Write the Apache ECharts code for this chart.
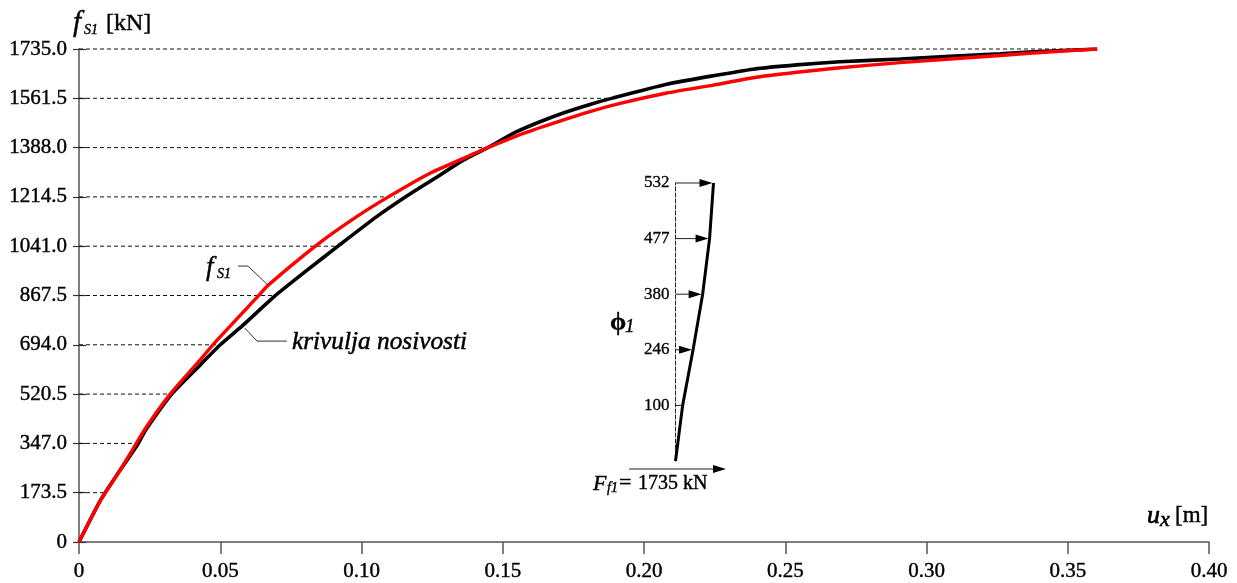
<!DOCTYPE html>
<html><head><meta charset="utf-8">
<style>html,body{margin:0;padding:0;background:#fff}#c{width:1237px;height:583px}</style>
<script src="https://cdn.jsdelivr.net/npm/echarts@6/dist/echarts.min.js"></script>
</head><body><div id="c"></div>
<script>
const xTicks = [0,0.05,0.10,0.15,0.20,0.25,0.30,0.35,0.40];
const yTicks = [0,173.5,347,520.5,694,867.5,1041,1214.5,1388,1561.5,1735];
const gridEnds = [0,0.0092,0.0205,0.033,0.05,0.0694,0.0917,0.1119,0.1448,0.188,0.358];
const capacityU = [0,0.00768,0.01416,0.02064,0.02361,0.03303,0.0431,0.05,0.05816,0.06938,0.0794,0.09179,0.10538,0.11657,0.12662,0.13604,0.14432,0.15494,0.16319,0.17144,0.18088,0.18913,0.20804,0.22453,0.2387,0.25405,0.26938,0.2906,0.326,0.3377,0.3604];
const capacityF = [0,148,247,341,394,523,625,694,764,866,946,1042,1145,1221,1284,1344,1386,1444,1479,1510,1540,1563,1611,1641,1664,1679,1690,1700,1718,1725,1735];
const fs1U = [0,0.00768,0.01416,0.0191,0.02361,0.03246,0.04131,0.04896,0.06347,0.06701,0.08414,0.0983,0.11009,0.12425,0.13604,0.14432,0.15727,0.1691,0.18088,0.19268,0.20804,0.22453,0.2387,0.25405,0.26938,0.2906,0.326,0.3377,0.3604];
const fs1F = [0,148,247,327,401,523,623,711,866,904,1045,1145,1218,1298,1350,1386,1438,1478,1515,1546,1580,1608,1634,1653,1669,1687,1712,1721,1735];
const phiLevels = ['','100','246','380','477','532'];
const phiLoads = [0,100,246,380,477,532];
const leaderFs1U = [0.0563,0.0598,0.0669];
const leaderFs1F = [971,971,904];
const leaderCapU = [0.0587,0.0630,0.0736];
const leaderCapF = [753,707,707];

const serif = '"Liberation Serif","Times New Roman",serif';
function txt(x,y,s,size,o){o=o||{};return {type:'text',x:x,y:y,silent:true,style:{text:s,fill:'#000',font:(o.italic?'italic ':'')+(o.bold?'bold ':'')+size+'px '+serif,textAlign:o.align||'left',textVerticalAlign:'middle',stroke:'#000',lineWidth:o.w===undefined?0.4:o.w}};}
function arrowShape(x0,x1,y){return [
 {type:'line',shape:{x1:x0,y1:y,x2:x1-8,y2:y},style:{stroke:'#222',lineWidth:1}},
 {type:'polygon',shape:{points:[[x1,y],[x1-13,y-4],[x1-13,y+4]]},style:{fill:'#000'}}];}

const chart = echarts.init(document.getElementById('c'),null,{renderer:'canvas'});
chart.setOption({
 animation:false,backgroundColor:'#fff',
 grid:[{left:79,top:49,width:1130,height:493},{left:675.5,top:183,width:38,height:278}],
 xAxis:[
  {gridIndex:0,type:'value',min:0,max:0.4,interval:0.05,
   axisLine:{lineStyle:{color:'#555',width:1.5}},axisTick:{length:12,lineStyle:{color:'#555',width:1.5}},splitLine:{show:false},
   axisLabel:{margin:19,color:'#000',fontFamily:serif,fontSize:21,textBorderColor:'#000',textBorderWidth:0.4,formatter:v=>{const i=xTicks.findIndex(t=>Math.abs(t-v)<1e-9);return i===0?'0':xTicks[i].toFixed(2);}}},
  {gridIndex:1,type:'value',min:0,max:532,show:false}
 ],
 yAxis:[
  {gridIndex:0,type:'value',min:0,max:1735,interval:173.5,
   axisLine:{show:true,lineStyle:{color:'#555',width:1.5}},axisTick:{show:true,length:6,lineStyle:{color:'#333',width:1.2}},splitLine:{show:false},
   axisLabel:{margin:12,color:'#000',fontFamily:serif,fontSize:21,padding:[7,0,0,0],textBorderColor:'#000',textBorderWidth:0.4,formatter:v=>v===0?'0':v.toFixed(1)}},
  {gridIndex:0,type:'value',min:0,max:1735,interval:173.5,position:'left',
   axisLine:{show:false},axisTick:{show:true,inside:true,length:7,lineStyle:{color:'#333',width:1.2}},axisLabel:{show:false},splitLine:{show:false}},
  {gridIndex:1,type:'category',data:phiLevels,boundaryGap:false,
   axisLine:{show:true,lineStyle:{color:'#222',width:1,type:[4,2]}},axisTick:{show:false},splitLine:{show:false},
   axisLabel:{margin:6,color:'#000',fontFamily:serif,fontSize:17,interval:0,padding:[5,0,0,0],textBorderColor:'#000',textBorderWidth:0.3}}
 ],
 series:[
  {type:'custom',xAxisIndex:0,yAxisIndex:0,silent:true,clip:false,z:1,
   data:yTicks.map((v,i)=>[gridEnds[i],v]),
   renderItem:(p,api)=>{const a=api.coord([0,api.value(1)]),b=api.coord([api.value(0),api.value(1)]);
     return {type:'line',shape:{x1:a[0],y1:a[1],x2:b[0],y2:b[1]},style:{stroke:'#111',lineWidth:1,lineDash:[4,3]}};}},
  {type:'line',name:'krivulja nosivosti',xAxisIndex:0,yAxisIndex:0,data:capacityU.map((u,i)=>[u,capacityF[i]]),smooth:0.2,showSymbol:false,symbol:'none',silent:true,z:3,lineStyle:{color:'#000',width:3.6}},
  {type:'line',name:'fS1',xAxisIndex:0,yAxisIndex:0,data:fs1U.map((u,i)=>[u,fs1F[i]]),smooth:0.2,showSymbol:false,symbol:'none',silent:true,z:4,lineStyle:{color:'#f00',width:3.4}},
  {type:'line',xAxisIndex:0,yAxisIndex:0,data:leaderFs1U.map((u,i)=>[u,leaderFs1F[i]]),symbol:'none',silent:true,z:2,lineStyle:{color:'#333',width:1}},
  {type:'line',xAxisIndex:0,yAxisIndex:0,data:leaderCapU.map((u,i)=>[u,leaderCapF[i]]),symbol:'none',silent:true,z:2,lineStyle:{color:'#333',width:1}},
  {type:'line',xAxisIndex:1,yAxisIndex:2,data:phiLoads.map((v,i)=>[v,i]),symbol:'none',silent:true,z:4,lineStyle:{color:'#000',width:3}},
  {type:'custom',xAxisIndex:1,yAxisIndex:2,silent:true,clip:false,z:3,
   data:phiLoads.map((v,i)=>[v,i]).slice(1),
   renderItem:(p,api)=>{const a=api.coord([0,api.value(1)]),b=api.coord([api.value(0),api.value(1)]);
     return {type:'group',children:(b[0]-a[0]<14)?[{type:'line',shape:{x1:a[0],y1:a[1],x2:b[0],y2:b[1]},style:{stroke:'#222',lineWidth:1}}]:arrowShape(a[0],b[0]-1,a[1])};}}
 ],
 graphic:[
  txt(73,23,'f',29,{italic:true}),txt(84,30,'S1',14,{italic:true}),txt(106,24,'[kN]',24),
  txt(206,268,'f',27,{italic:true}),txt(217,274,'S1',14,{italic:true}),
  txt(292,342,'krivulja nosivosti',25.3,{italic:true,w:0.5}),
  txt(1147,516,'u',26,{italic:true,w:0.7}),txt(1160,520,'x',22,{italic:true,w:0.6}),txt(1175,516,'[m]',23),
  txt(610,323,'\u03D5',26,{bold:true}),txt(625,327,'1',19,{italic:true}),
  txt(593,484,'F',22,{italic:true}),txt(607,488,'f1',14,{italic:true}),txt(619,483,'=',22),txt(638,484,'1735 kN',20),
  ...arrowShape(629,726,469).map(e=>Object.assign(e,{silent:true}))
 ]
});
</script></body></html>
